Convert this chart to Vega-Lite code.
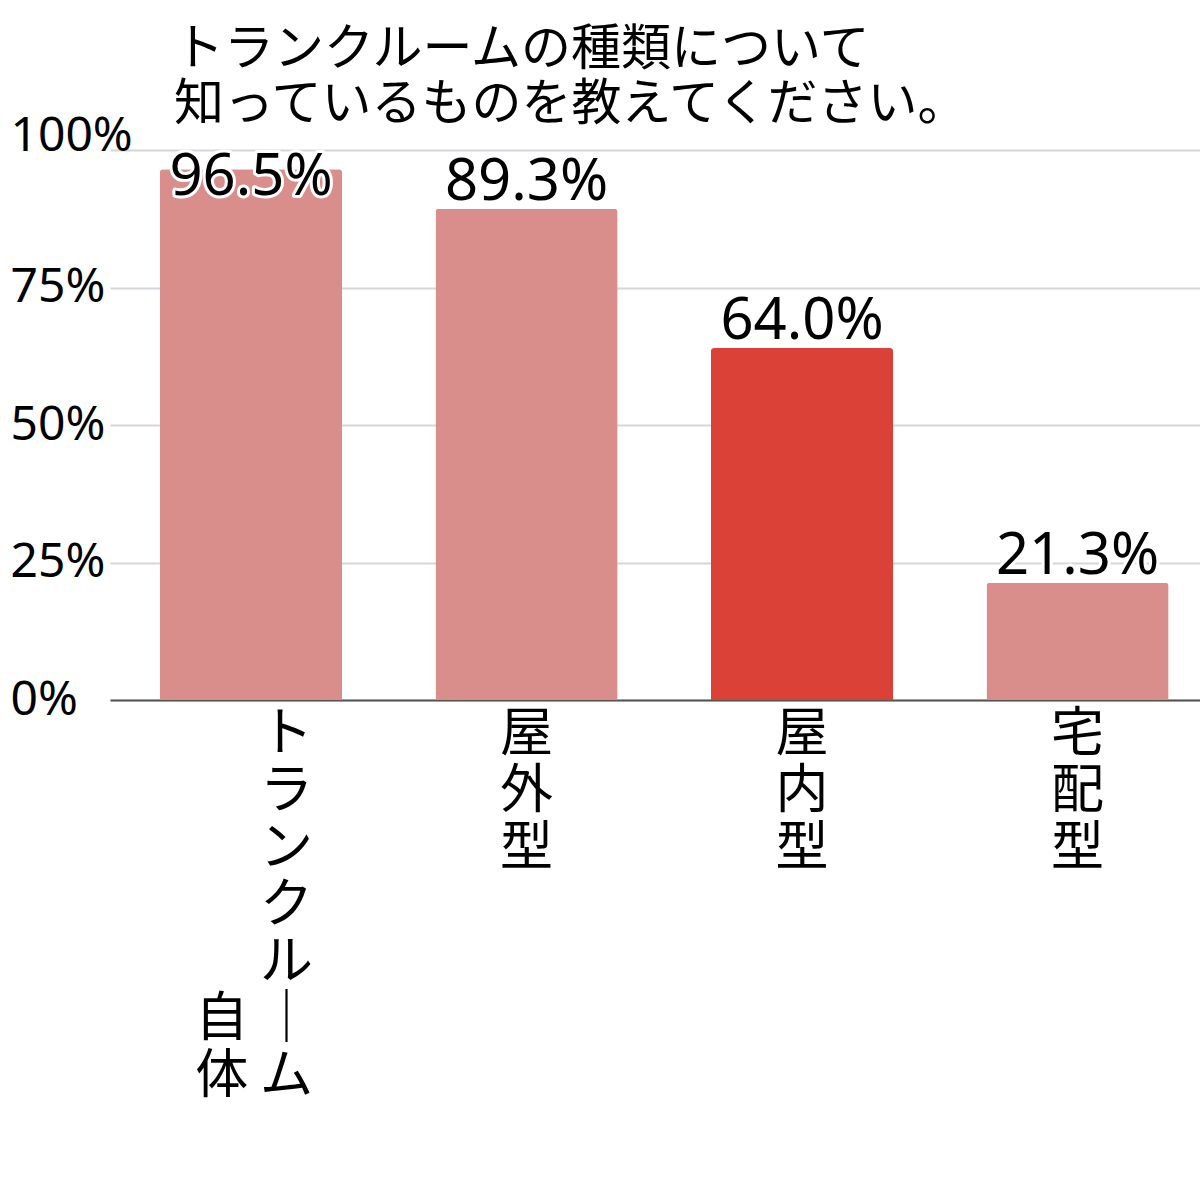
{
  "$schema": "https://vega.github.io/schema/vega-lite/v6.json",
  "autosize": {"type": "none"},
  "padding": {"left": 110, "top": 150, "right": 0, "bottom": 500},
  "width": 1090,
  "height": 550,
  "background": "#ffffff",
  "title": {
    "text": ["トランクルームの種類について", "知っているものを教えてください。"],
    "anchor": "start",
    "frame": "group",
    "dx": 64,
    "offset": -18,
    "font": "Noto Sans CJK JP",
    "fontSize": 50,
    "fontWeight": "normal",
    "lineHeight": 55,
    "color": "#000000"
  },
  "config": {
    "view": {"stroke": null}
  },
  "data": {
    "values": [
      {"category": "トランクルーム自体", "percent": 96.5},
      {"category": "屋外型", "percent": 89.3},
      {"category": "屋内型", "percent": 64.0},
      {"category": "宅配型", "percent": 21.3}
    ]
  },
  "transform": [
    {"calculate": "min(datum.percent, 90.2)", "as": "labelY"},
    {"calculate": "format(datum.percent, '.1f') + '%'", "as": "label"}
  ],
  "encoding": {
    "x": {
      "field": "category",
      "type": "nominal",
      "sort": null,
      "scale": {"paddingInner": 0.339, "paddingOuter": 0.1477, "align": 0.614},
      "axis": {
        "title": null,
        "labelAngle": 0,
        "labelFont": "Noto Sans CJK JP",
        "labelFontSize": 53,
        "labelLineHeight": 57,
        "labelColor": "#000000",
        "labelBaseline": "top",
        "labelPadding": 8,
        "labelLimit": 1000,
        "labelOverlap": false,
        "labelAlign": {"condition": {"test": "datum.value == 'トランクルーム自体'", "value": "right"}, "value": "center"},
        "labelOffset": {"condition": {"test": "datum.value == 'トランクルーム自体'", "value": 62}, "value": 0},
        "ticks": false,
        "domainColor": "#555555",
        "domainWidth": 2,
        "labelExpr": "datum.label == 'トランクルーム自体' ? ['ト', 'ラ', 'ン', 'ク', 'ル', '自 ｜', '体 ム'] : split(datum.label, '')"
      }
    }
  },
  "layer": [
    {
      "mark": {"type": "bar", "cornerRadiusTopLeft": 3, "cornerRadiusTopRight": 3},
      "encoding": {
        "y": {
          "field": "percent",
          "type": "quantitative",
          "scale": {"domain": [0, 100]},
          "axis": {
            "values": [0, 25, 50, 75, 100],
            "labelExpr": "datum.value + '%'",
            "title": null,
            "domain": false,
            "ticks": false,
            "labelAlign": "left",
            "labelPadding": 100,
            "labelFont": "Noto Sans",
            "labelFontSize": 48,
            "labelColor": "#000000",
            "labelBaseline": {"condition": {"test": "datum.value == 100", "value": "alphabetic"}, "value": "middle"},
            "gridColor": "#d5d5dc",
            "gridWidth": 2
          }
        },
        "color": {
          "field": "category",
          "type": "nominal",
          "scale": {
            "domain": ["トランクルーム自体", "屋外型", "屋内型", "宅配型"],
            "range": ["#d98e8c", "#d98e8c", "#dc4137", "#d98e8c"]
          },
          "legend": null
        }
      }
    },
    {
      "mark": {
        "type": "text",
        "baseline": "alphabetic",
        "dy": -9,
        "font": "Noto Sans",
        "fontSize": 58,
        "stroke": "#ffffff",
        "strokeWidth": 6,
        "strokeJoin": "round",
        "fill": "#ffffff"
      },
      "encoding": {
        "y": {"field": "labelY", "type": "quantitative"},
        "text": {"field": "label", "type": "nominal"}
      }
    },
    {
      "mark": {
        "type": "text",
        "baseline": "alphabetic",
        "dy": -9,
        "font": "Noto Sans",
        "fontSize": 58,
        "fill": "#000000"
      },
      "encoding": {
        "y": {"field": "labelY", "type": "quantitative"},
        "text": {"field": "label", "type": "nominal"}
      }
    }
  ]
}
